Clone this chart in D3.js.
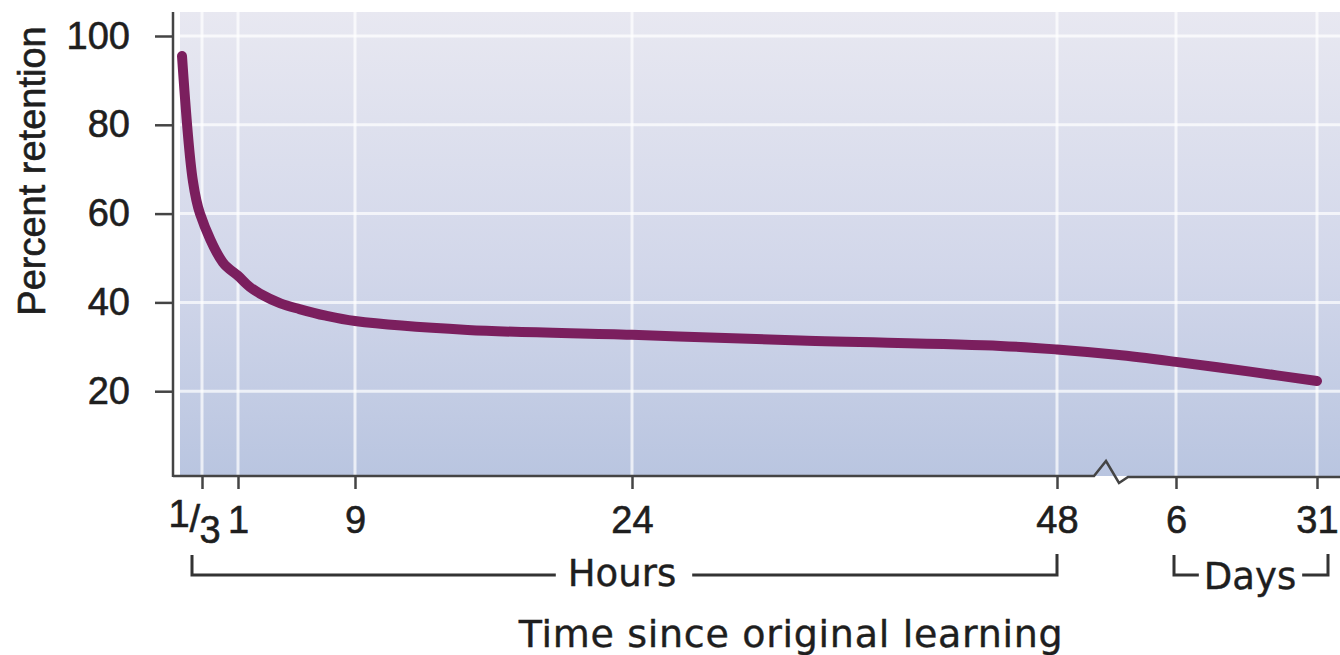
<!DOCTYPE html>
<html>
<head>
<meta charset="utf-8">
<script src="https://cdn.jsdelivr.net/npm/d3@7"></script>
<style>
  body { margin: 0; background: #fff; }
  svg { display: block; }
  .num { font-family: "Liberation Sans", Arial, sans-serif; font-size: 38px; fill: #1e1e1e; stroke: #1e1e1e; stroke-width: 0.6px; }
  .lbl { font-family: "DejaVu Sans", Verdana, sans-serif; fill: #1e1e1e; stroke: #1e1e1e; stroke-width: 0.4px; }
</style>
</head>
<body>
<svg id="chart" width="1340" height="655"></svg>
<script>
// Forgetting curve data (time in hours since learning -> percent retained)
const hours     = [0, 0.18, 0.3, 0.72, 1, 1.8, 2.5, 3.9, 5.2, 7, 9, 15.1, 24, 33.5, 44.8, 48, 96, 144, 459, 744];
const retention = [95.5, 67.5, 60, 49, 46, 43.5, 42, 39.8, 38.5, 37, 35.8, 33.8, 32.7, 31.4, 30.2, 29.4, 28.2, 26.6, 24.4, 22.3];

// x-axis ticks (hours) and their printed labels
const xTicks      = [1 / 3, 1, 9, 24, 48, 144, 744];
const xTickLabels = ["1/3", "1", "9", "24", "48", "6", "31"];
const yTicks      = [20, 40, 60, 80, 100];

const W = 1340, H = 655;
const axisX = 173, plotTop = 12, plotBottom = 476;

const svg = d3.select("#chart");

// the original axis is not uniform: each labelled time gets its own slot
const x = d3.scaleLinear()
    .domain([0, 1 / 3, 1, 9, 24, 48, 144, 744])
    .range([182, 202, 238, 355, 632, 1057, 1176, 1317]);
const y = d3.scaleLinear().domain([0, 100]).range([480, 36]);

// background gradient
const defs = svg.append("defs");
const grad = defs.append("linearGradient")
    .attr("id", "bg").attr("x1", 0).attr("y1", 0).attr("x2", 0).attr("y2", 1);
grad.append("stop").attr("offset", "0%").attr("stop-color", "#e8e8f1");
grad.append("stop").attr("offset", "55%").attr("stop-color", "#d2d7ea");
grad.append("stop").attr("offset", "100%").attr("stop-color", "#b9c5e0");

svg.append("rect")
    .attr("x", 180).attr("y", plotTop)
    .attr("width", W - 180).attr("height", plotBottom - plotTop)
    .attr("fill", "url(#bg)");

// grid
svg.append("g").selectAll("line").data(yTicks).join("line")
    .attr("x1", 180).attr("x2", W)
    .attr("y1", d => y(d)).attr("y2", d => y(d))
    .attr("stroke", "#fff").attr("stroke-opacity", 0.7).attr("stroke-width", 3);
svg.append("g").selectAll("line").data(xTicks).join("line")
    .attr("x1", d => x(d)).attr("x2", d => x(d))
    .attr("y1", plotTop).attr("y2", plotBottom)
    .attr("stroke", "#fff").attr("stroke-opacity", 0.7).attr("stroke-width", 3);

// y axis
const yAxis = svg.append("g")
    .attr("transform", `translate(${axisX},0)`)
    .call(d3.axisLeft(y).tickValues(yTicks).tickSize(18).tickPadding(25));
yAxis.select(".domain").remove();
yAxis.selectAll(".tick line").attr("stroke", "#444").attr("stroke-width", 2.5);
yAxis.selectAll(".tick text").attr("class", "num").attr("font-size", null).attr("font-family", null);

svg.append("line")
    .attr("x1", axisX).attr("x2", axisX)
    .attr("y1", plotTop).attr("y2", plotBottom + 1)
    .attr("stroke", "#444").attr("stroke-width", 2.5);

// x axis ticks + labels
const xAxis = svg.append("g")
    .attr("transform", `translate(0,${plotBottom})`)
    .call(d3.axisBottom(x).tickValues(xTicks)
        .tickFormat((d, i) => xTickLabels[i])
        .tickSize(13).tickPadding(17));
xAxis.select(".domain").remove();
xAxis.selectAll(".tick line").attr("stroke", "#444").attr("stroke-width", 2.5);
xAxis.selectAll(".tick text").attr("class", "num").attr("font-size", null).attr("font-family", null);

// "1/3" drawn as a stacked fraction
xAxis.selectAll(".tick text").filter(d => d === xTicks[0]).each(function () {
    const t = d3.select(this).text(null).attr("text-anchor", "start").attr("dy", null);
    const [num, den] = xTickLabels[0].split("/");
    t.append("tspan").attr("x", -34).attr("y", 51).text(num);
    t.append("tspan").attr("x", -13).attr("y", 56).text("/");
    t.append("tspan").attr("x", -3).attr("y", 67).text(den);
});

// x axis line with break mark between hours and days
const brk = x(48) + 49;
svg.append("path")
    .attr("d", `M${axisX},${plotBottom} H${brk - 12} L${brk},${plotBottom - 15} L${brk + 13},${plotBottom + 7} L${brk + 22},${plotBottom + 1} H${W}`)
    .attr("fill", "none").attr("stroke", "#444").attr("stroke-width", 2.5)
    .attr("stroke-linejoin", "miter");

// retention curve
const line = d3.line()
    .x((d, i) => x(hours[i]))
    .y(d => y(d))
    .curve(d3.curveCatmullRom.alpha(0.5));

svg.append("path")
    .datum(retention)
    .attr("d", line)
    .attr("fill", "none")
    .attr("stroke", "#7b1f5e")
    .attr("stroke-width", 10)
    .attr("stroke-linecap", "round")
    .attr("stroke-linejoin", "round");

// brackets for Hours / Days
function bracket(x0, x1, label, cx, baseline, gapL, gapR) {
    const g = svg.append("g");
    const txt = g.append("text").attr("class", "lbl").attr("font-size", 37)
        .attr("x", cx).attr("y", baseline).attr("text-anchor", "middle").text(label);
    const bb = txt.node().getBBox();
    const yb = 575;
    g.append("path")
        .attr("d", `M${x0},${yb - 20} V${yb} H${bb.x - gapL} M${bb.x + bb.width + gapR},${yb} H${x1} V${yb - 21}`)
        .attr("fill", "none").attr("stroke", "#333").attr("stroke-width", 3);
}
bracket(x(1 / 3) - 10, x(48), "Hours", 622, 586, 12, 16);
bracket(x(144) - 2, x(744) + 11, "Days", 1250, 589, 5, 6);

// axis titles
svg.append("text")
    .attr("class", "num")
    .attr("font-size", 37)
    .attr("text-anchor", "middle")
    .attr("transform", "translate(45,171) rotate(-90)")
    .text("Percent retention");

svg.append("text")
    .attr("class", "lbl")
    .attr("font-size", 38)
    .attr("letter-spacing", 0.7)
    .attr("text-anchor", "middle")
    .attr("x", 791).attr("y", 647)
    .text("Time since original learning");
</script>
</body>
</html>
